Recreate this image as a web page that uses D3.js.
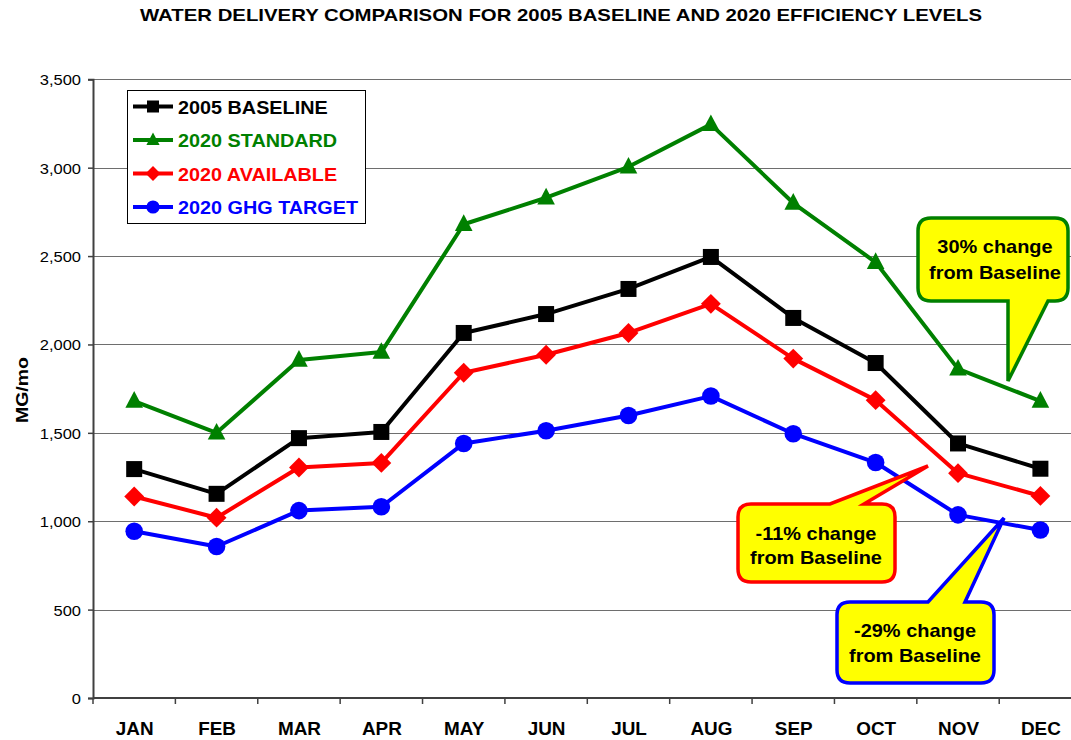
<!DOCTYPE html>
<html>
<head>
<meta charset="utf-8">
<script src="https://cdn.jsdelivr.net/npm/d3@7"></script>
<style>
  html, body { margin: 0; padding: 0; background: #fff; }
  svg { display: block; font-family: "Liberation Sans", Arial, sans-serif; }
</style>
</head>
<body>
<svg id="chart" width="1071" height="740"></svg>
<script>
// Monthly water delivery (MG/mo)
const months = ["JAN","FEB","MAR","APR","MAY","JUN","JUL","AUG","SEP","OCT","NOV","DEC"];
const baseline2005  = [1295,1155,1470,1505,2065,2172,2314,2495,2150,1895,1440,1297];
const standard2020  = [1680,1500,1912,1957,2680,2830,3005,3245,2800,2465,1862,1680];
const available2020 = [1140,1020,1304,1330,1840,1942,2065,2230,1920,1685,1272,1143];
const ghgTarget2020 = [943,857,1060,1082,1440,1512,1598,1708,1495,1332,1036,950];
const yTicks = [0,500,1000,1500,2000,2500,3000,3500];

const seriesNames  = ["2005 BASELINE","2020 STANDARD","2020 AVAILABLE","2020 GHG TARGET"];
const seriesColors = ["#000000","#008000","#ff0000","#0000ff"];
const seriesValues = [baseline2005, standard2020, available2020, ghgTarget2020];
const seriesMarks  = ["square","triangle","diamond","circle"];

const svg = d3.select("#chart");
const plotLeft = 93, plotRight = 1081.6, plotTop = 79.3, plotBottom = 698;

const xBand = d3.scaleBand().domain(months).range([plotLeft, plotRight]);
const x = d3.scalePoint().domain(months).range([plotLeft, plotRight]).padding(0.5);
const y = d3.scaleLinear().domain([0, 3500]).range([plotBottom, plotTop]);

// stretch text horizontally by a factor
function stretch(sel, k) {
  sel.each(function () {
    const w = this.getComputedTextLength();
    d3.select(this).attr("textLength", w * k).attr("lengthAdjust", "spacingAndGlyphs");
  });
}

// Title
svg.append("text")
  .attr("x", 561).attr("y", 21)
  .attr("text-anchor", "middle")
  .attr("font-size", 17).attr("font-weight", "bold")
  .attr("textLength", 842).attr("lengthAdjust", "spacingAndGlyphs")
  .text("WATER DELIVERY COMPARISON FOR 2005 BASELINE AND 2020 EFFICIENCY LEVELS");

// Gridlines
svg.append("g").selectAll("line")
  .data(yTicks.filter(d => d > 0))
  .join("line")
  .attr("x1", plotLeft).attr("x2", plotRight)
  .attr("y1", d => Math.round(y(d)) + 0.5).attr("y2", d => Math.round(y(d)) + 0.5)
  .attr("stroke", "#6e6e6e").attr("stroke-width", 1.2);

// Y axis
const yAxis = svg.append("g")
  .attr("transform", `translate(${plotLeft},0)`)
  .call(d3.axisLeft(y).tickValues(yTicks).tickSize(5).tickPadding(8).tickFormat(d3.format(",")));
yAxis.select(".domain").attr("stroke", "#404040").attr("stroke-width", 2);
yAxis.selectAll(".tick line").attr("stroke", "#404040").attr("stroke-width", 1.5);
yAxis.selectAll(".tick text")
  .attr("font-size", 15).attr("font-family", "Liberation Sans, Arial, sans-serif")
  .attr("fill", "#000").attr("x", -12).attr("dy", "0.36em")
  .call(stretch, 1.1);

// X axis line, boundary ticks and month labels
svg.append("line")
  .attr("x1", plotLeft).attr("x2", plotRight).attr("y1", plotBottom).attr("y2", plotBottom)
  .attr("stroke", "#404040").attr("stroke-width", 2);
svg.append("g").selectAll("line")
  .data(months.map(m => xBand(m)).concat([plotRight]))
  .join("line")
  .attr("x1", d => d).attr("x2", d => d)
  .attr("y1", plotBottom).attr("y2", plotBottom + 6)
  .attr("stroke", "#404040").attr("stroke-width", 1.5);
const xAxis = svg.append("g")
  .attr("transform", `translate(0,${plotBottom})`)
  .call(d3.axisBottom(x).tickSize(0).tickPadding(0));
xAxis.select(".domain").remove();
xAxis.selectAll(".tick text")
  .attr("y", 37).attr("dy", 0)
  .attr("font-size", 18).attr("font-weight", "bold")
  .attr("font-family", "Liberation Sans, Arial, sans-serif").attr("fill", "#000")
  .call(stretch, 1.05);

// Y axis title
svg.append("text")
  .attr("transform", "translate(28,390) rotate(-90)")
  .attr("text-anchor", "middle")
  .attr("font-size", 17).attr("font-weight", "bold")
  .attr("textLength", 66).attr("lengthAdjust", "spacingAndGlyphs")
  .text("MG/mo");

// Marker drawing
function marker(g, kind, color, s) {
  if (kind === "square") {
    g.append("rect").attr("x", -s / 2).attr("y", -s / 2).attr("width", s).attr("height", s).attr("fill", color);
  } else if (kind === "diamond") {
    const h = s * 0.62;
    g.append("path").attr("d", `M0,${-h}L${h},0L0,${h}L${-h},0Z`).attr("fill", color);
  } else if (kind === "triangle") {
    const w = s * 1.1, hh = s;
    g.append("path").attr("d", `M0,${-hh * 0.62}L${w / 2},${hh * 0.42}L${-w / 2},${hh * 0.42}Z`).attr("fill", color);
  } else {
    g.append("circle").attr("r", s * 0.55).attr("fill", color);
  }
}

// Series lines and markers
const line = d3.line().x((d, i) => x(months[i])).y(d => y(d));
seriesValues.forEach((vals, si) => {
  const g = svg.append("g");
  g.append("path")
    .attr("d", line(vals))
    .attr("fill", "none")
    .attr("stroke", seriesColors[si]).attr("stroke-width", 4)
    .attr("stroke-linejoin", "round");
  vals.forEach((v, i) => {
    const mg = g.append("g").attr("transform", `translate(${x(months[i])},${y(v)})`);
    marker(mg, seriesMarks[si], seriesColors[si], 16);
  });
});

// Legend
const legend = svg.append("g");
legend.append("rect")
  .attr("x", 127.5).attr("y", 90.5).attr("width", 238).attr("height", 133)
  .attr("fill", "#fff").attr("stroke", "#000").attr("stroke-width", 1);
const rowY = [106.5, 140, 173.5, 207];
seriesNames.forEach((name, i) => {
  const r = legend.append("g").attr("transform", `translate(0,${rowY[i]})`);
  r.append("line").attr("x1", 133).attr("x2", 173).attr("y1", 0).attr("y2", 0)
    .attr("stroke", seriesColors[i]).attr("stroke-width", 4);
  const mg = r.append("g").attr("transform", "translate(153,0)");
  marker(mg, seriesMarks[i], seriesColors[i], 12);
  r.append("text").attr("x", 178).attr("y", 7)
    .attr("font-size", 18).attr("font-weight", "bold").attr("fill", seriesColors[i])
    .text(name).call(stretch, 1.1);
});

// Callout boxes with pointers
function callout(bx, by, w, h, r, side, b1, b2, tip) {
  const p = d3.path();
  p.moveTo(bx + r, by);
  if (side === "top") { p.lineTo(b1, by); p.lineTo(tip[0], tip[1]); p.lineTo(b2, by); }
  p.lineTo(bx + w - r, by);
  p.quadraticCurveTo(bx + w, by, bx + w, by + r);
  p.lineTo(bx + w, by + h - r);
  p.quadraticCurveTo(bx + w, by + h, bx + w - r, by + h);
  if (side === "bottom") { p.lineTo(b2, by + h); p.lineTo(tip[0], tip[1]); p.lineTo(b1, by + h); }
  p.lineTo(bx + r, by + h);
  p.quadraticCurveTo(bx, by + h, bx, by + h - r);
  p.lineTo(bx, by + r);
  p.quadraticCurveTo(bx, by, bx + r, by);
  p.closePath();
  return p.toString();
}

const callouts = [
  { box: [918, 218, 150, 83], side: "bottom", base: [1008, 1048], tip: [1008, 381], color: "#008000",
    lines: ["30% change", "from Baseline"], cx: 995, ty: [253, 279] },
  { box: [738, 504, 157, 78], side: "top", base: [830, 864], tip: [928, 466], color: "#ff0000",
    lines: ["-11% change", "from Baseline"], cx: 816, ty: [540, 564] },
  { box: [837, 602, 157, 81], side: "top", base: [928, 965], tip: [1004, 518], color: "#0000ff",
    lines: ["-29% change", "from Baseline"], cx: 915, ty: [637, 662] }
];
callouts.forEach(c => {
  const g = svg.append("g");
  g.append("path")
    .attr("d", callout(c.box[0], c.box[1], c.box[2], c.box[3], 13, c.side, c.base[0], c.base[1], c.tip))
    .attr("fill", "#ffff00").attr("stroke", c.color).attr("stroke-width", 3.5)
    .attr("stroke-linejoin", "miter");
  c.lines.forEach((t, i) => {
    g.append("text").attr("x", c.cx).attr("y", c.ty[i])
      .attr("text-anchor", "middle")
      .attr("font-size", 19).attr("font-weight", "bold").attr("fill", "#000")
      .text(t).call(stretch, 1.05);
  });
});
</script>
</body>
</html>
